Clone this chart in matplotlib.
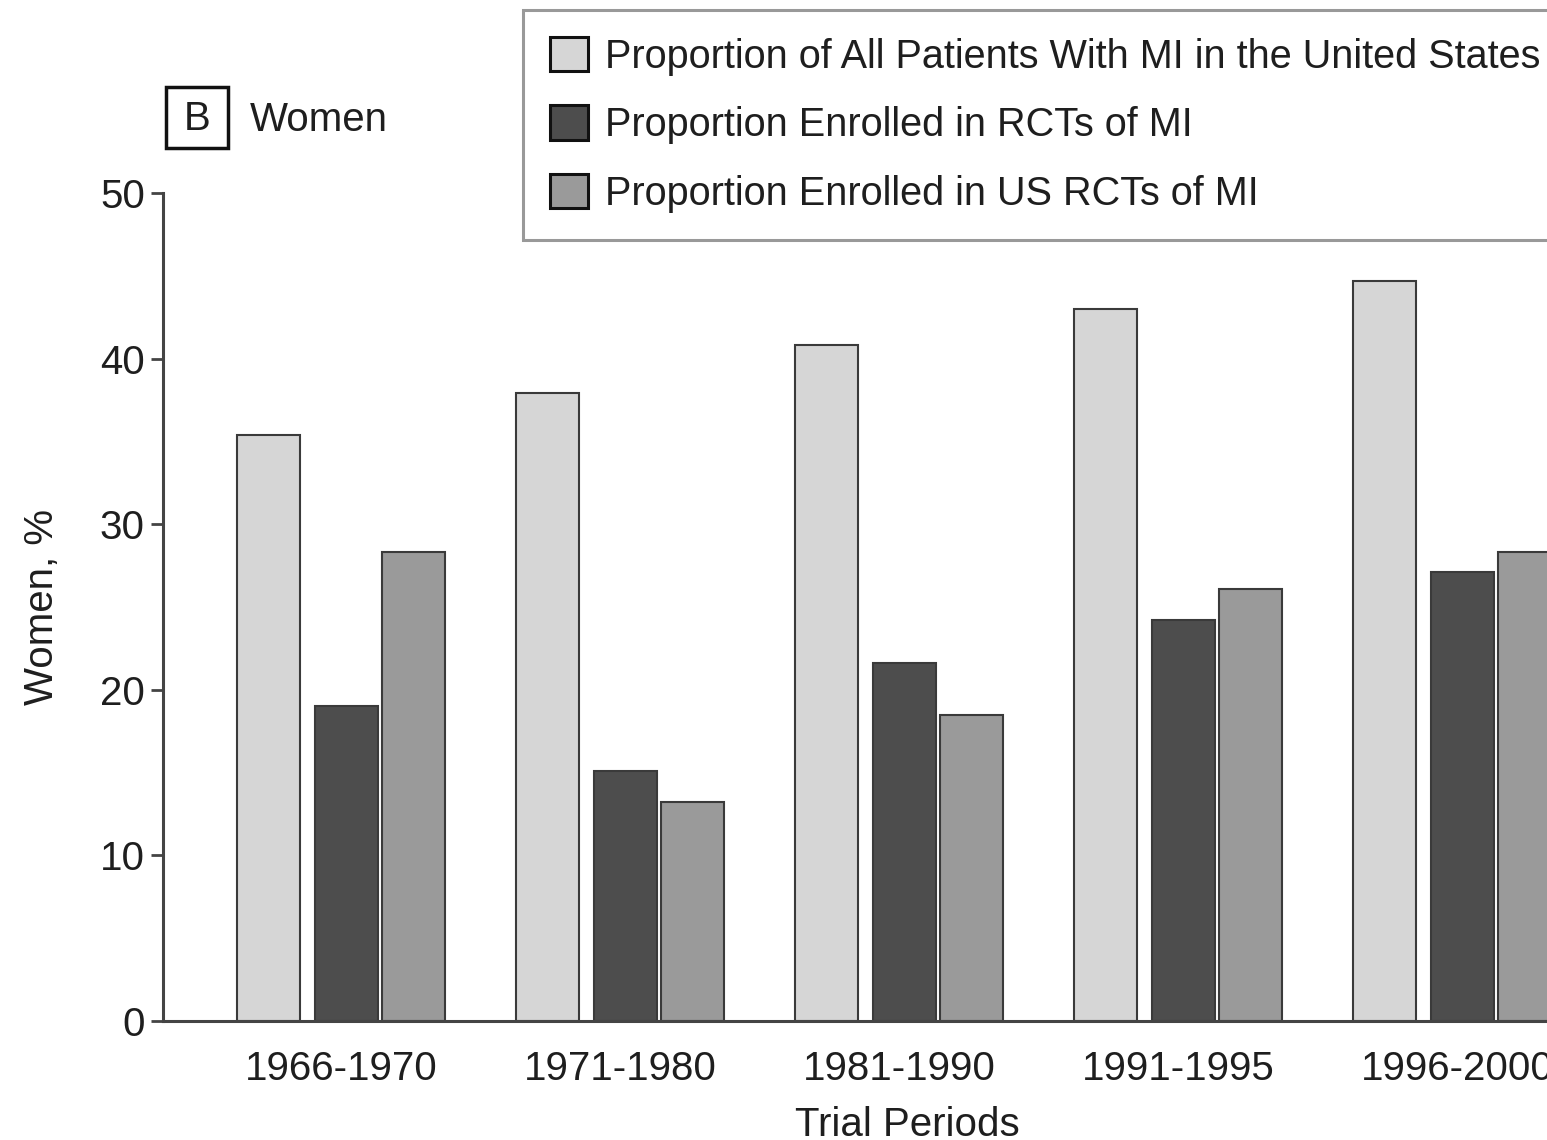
import matplotlib
matplotlib.use("Agg")
import matplotlib.pyplot as plt
from matplotlib.patches import Rectangle
import numpy as np

# --- Daten ---
periods = ["1966-1970", "1971-1980", "1981-1990", "1991-1995", "1996-2000"]
all_patients_us = [35.4, 37.9, 40.8, 43.0, 44.7]
enrolled_rcts = [19.0, 15.1, 21.6, 24.2, 27.1]
enrolled_us_rcts = [28.3, 13.2, 18.5, 26.1, 28.3]

series_labels = [
    "Proportion of All Patients With MI in the United States",
    "Proportion Enrolled in RCTs of MI",
    "Proportion Enrolled in US RCTs of MI",
]

plt.rcParams['font.family'] = ['Liberation Sans', 'DejaVu Sans']
text_color = '#1e1e1e'
fs = 29
fs_leg = 28.5

fig = plt.figure(figsize=(15.47, 11.40), dpi=100)
ax = fig.add_axes([163 / 1547, 119 / 1140, 0.9627, 828 / 1140])

x = np.arange(len(periods))
width = 0.228
offsets = [-0.26, 0.02, 0.26]
colors = ['#d6d6d6', '#4d4d4d', '#9a9a9a']

bars = []
for vals, off, col, lab in zip([all_patients_us, enrolled_rcts, enrolled_us_rcts],
                               offsets, colors, series_labels):
    b = ax.bar(x + off, vals, width, color=col, edgecolor='#3a3a3a',
               linewidth=1.5, label=lab, zorder=2)
    bars.append(b)

ax.set_xlim(-0.638, 4.7)
ax.set_ylim(0, 50)
ax.set_yticks([0, 10, 20, 30, 40, 50])
ax.set_xticks(x)
ax.set_xticklabels(periods)

for s in ['top', 'right']:
    ax.spines[s].set_visible(False)
for s in ['left', 'bottom']:
    ax.spines[s].set_color('#444444')
    ax.spines[s].set_linewidth(2.2)

ax.tick_params(axis='y', length=9, width=2, color='#444444', pad=4,
               labelsize=fs, labelcolor=text_color)
ax.tick_params(axis='x', length=0, pad=21, labelsize=fs, labelcolor=text_color)

ax.set_xlabel("Trial Periods", fontsize=fs, color=text_color, labelpad=13)
ax.set_ylabel("Women, %", fontsize=fs, color=text_color, labelpad=28)

# Panel-Titel "B  Women"
fig.add_artist(Rectangle((166 / 1547, 1 - 148 / 1140), 62 / 1547, 61 / 1140,
                         transform=fig.transFigure, fill=False,
                         edgecolor='#111111', linewidth=2.5))
fig.text(197 / 1547, 1 - 119 / 1140, "B", fontsize=fs, color=text_color,
         ha='center', va='center')
fig.text(250 / 1547, 1 - 120 / 1140, "Women", fontsize=fs, color=text_color,
         ha='left', va='center')

leg = fig.legend(handles=bars, labels=series_labels, loc='upper left',
                 bbox_to_anchor=(523 / 1547, 1 - 10 / 1140),
                 fontsize=fs_leg, frameon=True, fancybox=False,
                 handlelength=0.96, handleheight=0.96, handletextpad=0.42,
                 borderpad=0.68, labelspacing=0.75, borderaxespad=0)
leg.get_frame().set_edgecolor('#808080')
leg.get_frame().set_linewidth(2.2)
for h in leg.legend_handles:
    h.set_edgecolor('#111111')
    h.set_linewidth(2.2)
for t in leg.get_texts():
    t.set_color(text_color)

fig.savefig("out.png", dpi=100)
